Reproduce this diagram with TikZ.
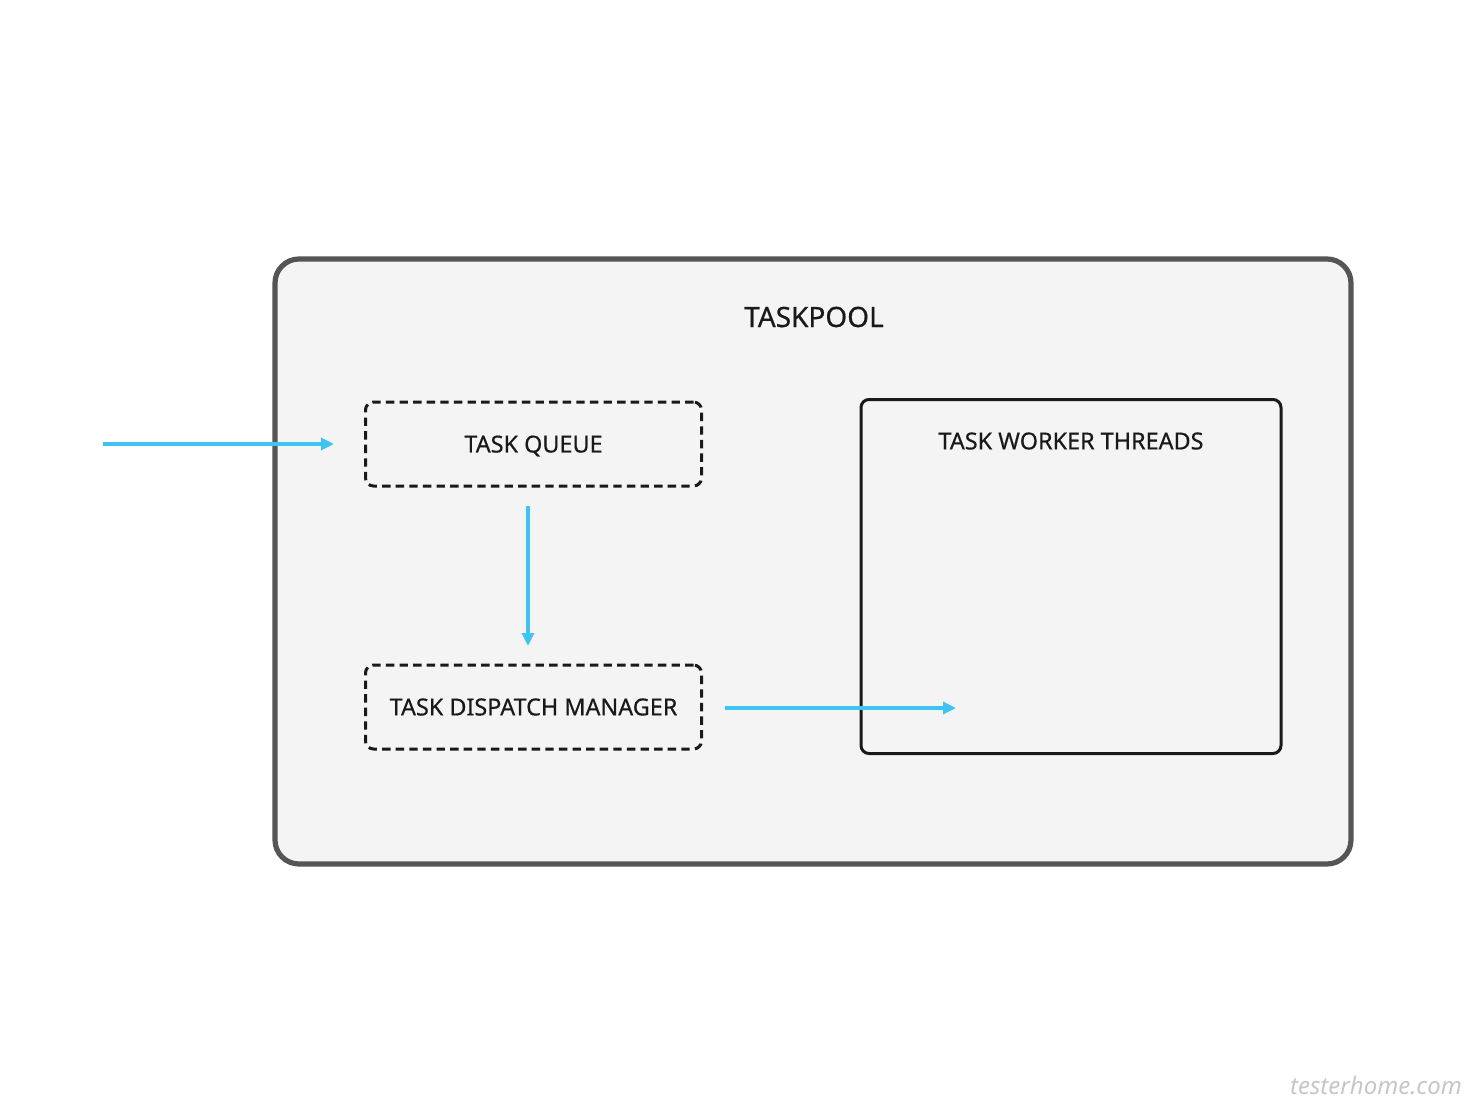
\documentclass[tikz,border=0pt]{standalone}
\usepackage{fontspec}
\setmainfont{Noto Sans}
\newfontfamily\lblfont[FakeBold=0.5]{Noto Sans}
\usetikzlibrary{arrows.meta}
\definecolor{flow}{HTML}{3FC3F0}
\definecolor{panel}{HTML}{F4F4F4}
\definecolor{frame}{HTML}{555555}
\tikzset{
  pool/.style={draw=frame, fill=panel, line width=2.6pt, rounded corners=12pt},
  dashbox/.style={draw=black!90, line width=1.5pt, dash pattern=on 4.2pt off 2.6pt, rounded corners=4pt},
  solidbox/.style={draw=black!90, line width=1.5pt, rounded corners=4pt},
  lbl/.style={font=\lblfont\fontsize{11.7pt}{13pt}\selectfont, text=black!90},
  flowarrow/.style={draw=flow, line width=1.7pt, -{Triangle[length=6.5pt,width=6pt]}}
}
\begin{document}
\begin{tikzpicture}[x=0.5pt,y=-0.5pt]
\useasboundingbox[fill=white] (0,0) rectangle (1480,1120);
\path[pool] (275,259) rectangle (1351,864);
\node[lbl, font=\lblfont\fontsize{14pt}{16pt}\selectfont] (title) at (814,317) {TASKPOOL};
\node[dashbox, minimum width=168pt, minimum height=42pt] (queue) at (533.5,444) {};
\node[lbl] at ([yshift=-1pt]queue.center) {TASK QUEUE};
\node[dashbox, minimum width=168pt, minimum height=42pt] (dispatch) at (533.5,707) {};
\node[lbl] at (dispatch.center) {TASK DISPATCH MANAGER};
\node[solidbox, minimum width=210pt, minimum height=177pt] (workers) at (1071,576.5) {};
\node[lbl] (wtitle) at (1071,441) {TASK WORKER THREADS};
\coordinate (in) at (103,444);
\coordinate (inend) at (334,444);
\coordinate (qout) at (528,506);
\coordinate (din) at (528,646);
\coordinate (dout) at (725,708);
\coordinate (wend) at (956,708);
\draw[flowarrow] (in) -- (inend);
\draw[flowarrow] (qout) -- (din);
\draw[flowarrow] (dout) -- (wend);
\node[text=black!22, font=\itshape\fontsize{12pt}{14pt}\selectfont] (wm) at (1376,1086) {testerhome.com};
\end{tikzpicture}
\end{document}
